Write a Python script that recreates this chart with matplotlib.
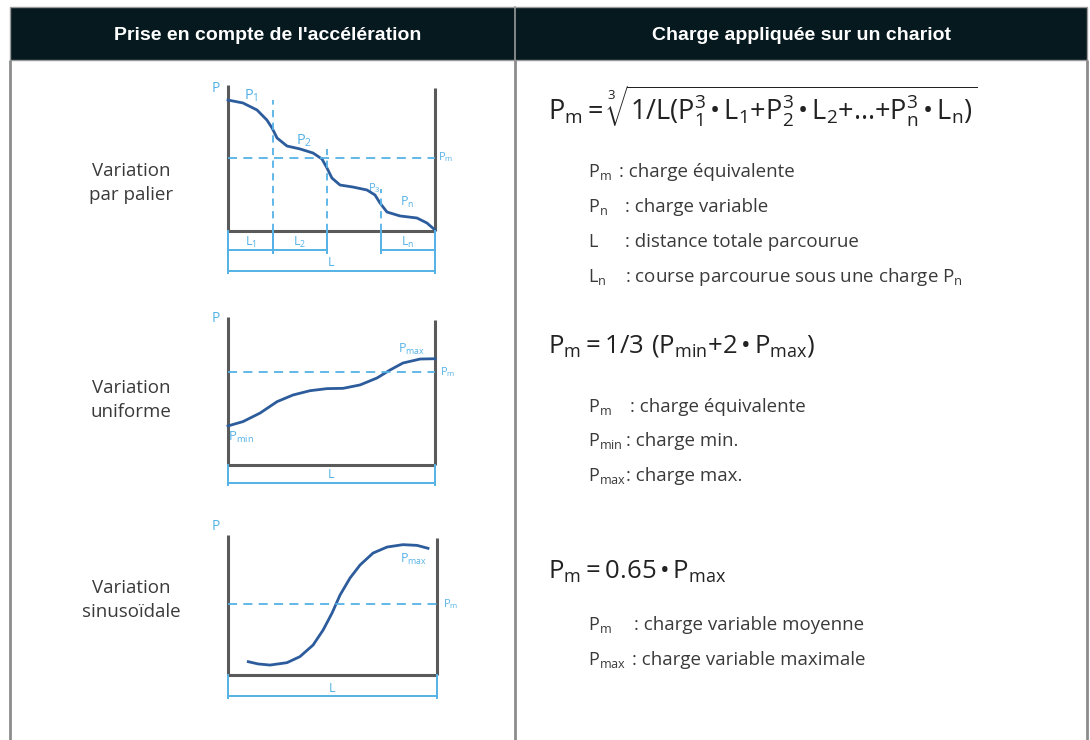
import matplotlib
matplotlib.use("Agg")
import matplotlib.pyplot as plt
import matplotlib.transforms as mtransforms
from matplotlib.patches import Rectangle

plt.rcParams["font.family"] = ["Open Sans", "DejaVu Sans"]
plt.rcParams["mathtext.fontset"] = "custom"
plt.rcParams["mathtext.rm"] = "Open Sans"
plt.rcParams["mathtext.it"] = "Open Sans:italic"
plt.rcParams["mathtext.bf"] = "Open Sans:bold"

# ── data: curves (x = % of travel, y = % of load) ───────────────────────────
STEP_X = [0, 7.2, 14.0, 18.8, 21.3, 23.7, 28.5, 34.8, 41.1, 45.4, 47.8, 50.2,
          54.1, 60.4, 67.1, 71.0, 73.4, 76.8, 83.1, 91.3, 96.1, 100]
STEP_Y = [89.7, 87.7, 82.9, 76.0, 70.5, 63.7, 58.2, 56.2, 53.4, 49.3, 43.2,
          36.3, 31.5, 30.1, 28.1, 24.7, 19.2, 13.0, 10.3, 8.9, 5.5, 0.7]
STEP_EDGES = [0, 21.7, 47.8, 73.9, 100]
STEP_TOPS = [89.7, 56.0, 29.0]          # level where each dashed step line starts
STEP_PM = 50.0
STEP_LABELS = [r"L$_\mathrm{1}$", r"L$_\mathrm{2}$", None, r"L$_\mathrm{n}$"]

UNI_X = [0, 7.2, 15.5, 23.7, 31.4, 39.6, 47.8, 55.6, 63.8, 72.0, 78.3, 84.5, 92.8, 100]
UNI_Y = [26.4, 29.3, 35.1, 42.8, 47.3, 50.2, 51.6, 51.8, 54.1, 58.8, 64.2, 68.9, 71.6, 71.8]
UNI_PM = 62.8

SIN_X = [9.7, 14.4, 20.1, 28.2, 34.4, 40.7, 45.5, 49.8, 53.6, 58.4, 63.2, 69.4,
         76.1, 83.7, 90.4, 95.7]
SIN_Y = [9.5, 7.9, 7.1, 8.8, 13.1, 21.4, 32.1, 44.3, 57.1, 69.3, 78.6, 87.1,
         91.4, 93.1, 92.6, 90.5]
SIN_PM = 50.7

HEADERS = ["Prise en compte de l'accélération", "Charge appliquée sur un chariot"]
ROW_LABELS = ["Variation\npar palier", "Variation\nuniforme", "Variation\nsinusoïdale"]

DARK = "#06191f"
FRAME = "#8c8c8c"
AXC = "#5a5a5a"
CURVE = "#2c5c9c"
LIGHT = "#55b2e6"
TXT = "#3a3a3a"

fig = plt.figure(figsize=(10.9, 7.4), dpi=100)
fig.patch.set_facecolor("white")
ax = fig.add_axes([0, 0, 1, 1])
ax.set_xlim(0, 1090)
ax.set_ylim(740, 0)
ax.axis("off")

# ── table frame ────────────────────────────────────────────────────────────
ax.add_patch(Rectangle((10, 7), 1077, 53, facecolor=DARK, edgecolor="#9a9a9a", lw=1.0))
ax.plot([515, 515], [7, 60], color="#9a9a9a", lw=1.2)
for x in (10, 515, 1087):
    ax.plot([x, x], [60, 740], color=FRAME, lw=2.0, solid_capstyle="butt")
for cx, h in zip((268, 802), HEADERS):
    ax.text(cx, 35, h, ha="center", va="center", color="white", fontsize=14,
            fontweight="bold", family=["Liberation Sans", "DejaVu Sans"])

for cy, lab in zip((183, 400, 600), ROW_LABELS):
    ax.text(131, cy, lab, ha="center", va="center", color=TXT, fontsize=13.5,
            linespacing=1.4)


def mini(left, right, top, base):
    a = fig.add_axes([left / 1090, 1 - base / 740, (right - left) / 1090, (base - top) / 740])
    a.set_xlim(0, 100)
    a.set_ylim(0, 100)
    a.axis("off")
    a.plot([0, 0], [0, 100], color=AXC, lw=2.2, clip_on=False, solid_capstyle="butt")
    a.plot([100, 100], [0, 98], color=AXC, lw=2.2, clip_on=False, solid_capstyle="butt")
    a.plot([0, 100], [0, 0], color=AXC, lw=2.2, clip_on=False, solid_capstyle="butt")
    tr = mtransforms.blended_transform_factory(a.transData, ax.transData)
    return a, tr


def dim_total(a, tr, base, ytot):
    a.plot([0, 0], [base, ytot + 2], color=LIGHT, lw=1.4, transform=tr, clip_on=False)
    a.plot([100, 100], [base, ytot + 2], color=LIGHT, lw=1.4, transform=tr, clip_on=False)
    a.plot([0, 100], [ytot, ytot], color=LIGHT, lw=1.4, transform=tr, clip_on=False)
    a.text(50, ytot - 8, "L", color=LIGHT, fontsize=9, ha="center", va="center",
           transform=tr)


def blue(x, y, s, fs=9, ha="left"):
    ax.text(x, y, s, color=LIGHT, fontsize=fs, ha=ha, va="center")


# ── diagram 1 : variation par palier ───────────────────────────────────────
a1, t1 = mini(228, 435, 85, 231)
a1.plot(STEP_X, STEP_Y, color=CURVE, lw=2.0, solid_joinstyle="round", clip_on=False)
a1.axhline(STEP_PM, color=LIGHT, lw=1.3, ls=(0, (5, 3.5)))
for x, top in zip(STEP_EDGES[1:-1], STEP_TOPS):
    a1.plot([x, x], [0, top], color=LIGHT, lw=1.3, ls=(0, (4, 3)))
for i, lab in enumerate(STEP_LABELS):
    if lab is None:
        continue
    x0, x1 = STEP_EDGES[i], STEP_EDGES[i + 1]
    a1.plot([x0, x1], [250, 250], color=LIGHT, lw=1.4, transform=t1, clip_on=False)
    for x in (x0, x1):
        a1.plot([x, x], [231, 253], color=LIGHT, lw=1.4, transform=t1, clip_on=False)
    a1.text((x0 + x1) / 2, 242, lab, color=LIGHT, fontsize=9, ha="center",
            va="center", transform=t1)
dim_total(a1, t1, 231, 271)
blue(212, 88, "P", fs=10)
blue(244, 96, r"P$_\mathrm{1}$", fs=10.5)
blue(296, 141, r"P$_\mathrm{2}$", fs=10.5)
blue(368, 188, r"P$_\mathrm{3}$", fs=8)
blue(400, 202, r"P$_\mathrm{n}$", fs=9)
blue(438, 157, r"P$_\mathrm{m}$", fs=8)

# ── diagram 2 : variation uniforme ─────────────────────────────────────────
a2, t2 = mini(228, 435, 317, 465)
a2.plot(UNI_X, UNI_Y, color=CURVE, lw=2.0, solid_joinstyle="round", clip_on=False)
a2.axhline(UNI_PM, color=LIGHT, lw=1.3, ls=(0, (5, 3.5)))
dim_total(a2, t2, 465, 483)
blue(212, 318, "P", fs=10)
blue(398, 349, r"P$_\mathrm{max}$", fs=9)
blue(228, 437, r"P$_\mathrm{min}$", fs=9.5)
blue(440, 372, r"P$_\mathrm{m}$", fs=8)

# ── diagram 3 : variation sinusoïdale ──────────────────────────────────────
a3, t3 = mini(228, 437, 535, 675)
a3.plot(SIN_X, SIN_Y, color=CURVE, lw=2.0, solid_joinstyle="round", clip_on=False)
a3.axhline(SIN_PM, color=LIGHT, lw=1.3, ls=(0, (5, 3.5)))
dim_total(a3, t3, 675, 696)
blue(212, 527, "P", fs=10)
blue(400, 559, r"P$_\mathrm{max}$", fs=9)
blue(443, 604, r"P$_\mathrm{m}$", fs=8)

# ── formulas ───────────────────────────────────────────────────────────────
F1 = (r"$\mathrm{P_m}=\sqrt[3]{\mathrm{1/L(P_1^3\,•\,L_1{+}P_2^3\,•\,L_2{+}…{+}"
      r"P_n^3\,•\,L_n)}}$")
F2 = r"$\mathrm{P_m}=\mathrm{1/3\ (P_{min}{+}2\,•\,P_{max})}$"
F3 = r"$\mathrm{P_m}=\mathrm{0.65\,•\,P_{max}}$"
for y, f, fs in zip((106, 346, 572), (F1, F2, F3), (19.5, 18.5, 18.5)):
    ax.text(548, y, f, fontsize=fs, color="#222222", va="center")

DESC = [
    (172, r"P$_\mathrm{m}$", 619, ": charge équivalente"),
    (207, r"P$_\mathrm{n}$", 625, ": charge variable"),
    (242, "L", 625, ": distance totale parcourue"),
    (277, r"L$_\mathrm{n}$", 625, r": course parcourue sous une charge P$_\mathrm{n}$"),
    (407, r"P$_\mathrm{m}$", 630, ": charge équivalente"),
    (441, r"P$_\mathrm{min}$", 626, ": charge min."),
    (476, r"P$_\mathrm{max}$", 626, ": charge max."),
    (625, r"P$_\mathrm{m}$", 634, ": charge variable moyenne"),
    (660, r"P$_\mathrm{max}$", 632, ": charge variable maximale"),
]
for y, sym, xc, txt in DESC:
    ax.text(588, y, sym, fontsize=13, color=TXT, va="center")
    ax.text(xc, y, txt, fontsize=13.5, color=TXT, va="center")

fig.savefig("out.png", dpi=100, facecolor="white")
